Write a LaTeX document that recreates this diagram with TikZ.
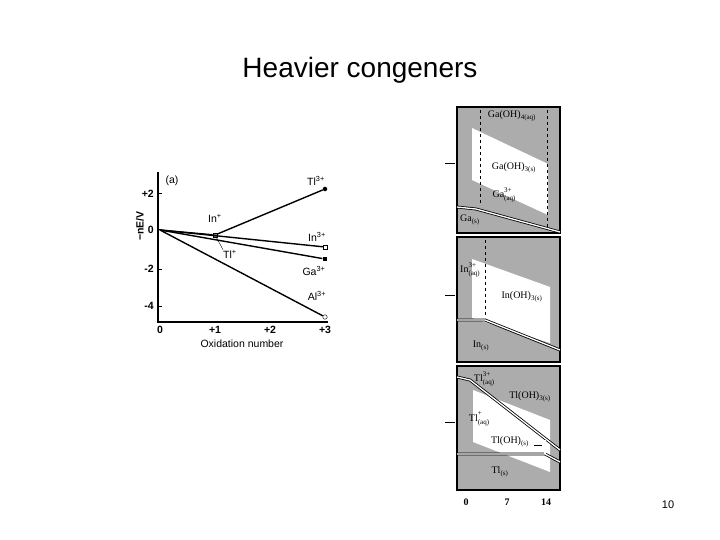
\documentclass[tikz,border=0pt]{standalone}
\usepackage{fontspec}
\setmainfont{Liberation Serif}
\setsansfont{Liberation Sans}
\newcommand\ionsp[3]{#1\rlap{\raisebox{1.15ex}{\scriptsize #2}}\raisebox{-0.7ex}{\scriptsize #3}}
\begin{document}
\begin{tikzpicture}[x=1pt,y=-1pt,
  lbl/.style={font=\sffamily\fontsize{10.5}{11}\selectfont,inner sep=0pt},
  pl/.style={font=\fontsize{10}{11}\selectfont,inner sep=0pt},
  ln/.style={line width=1.4pt},
  panel/.style={draw=black,line width=1.2pt,fill=gray!65},
  wh/.style={fill=white,draw=none},
  dl/.style={double=white,double distance=1.3pt,line width=0.8pt},
  dsh/.style={dashed,line width=1pt}]
\useasboundingbox (0,0) rectangle (720,540);
\node[font=\sffamily\fontsize{28}{32}\selectfont] (title) at (360,70) {Heavier congeners};
\node[font=\sffamily\fontsize{11}{12}\selectfont] (pg) at (668,505) {10};
% Frost diagram
\coordinate (ytop) at (158,172);
\coordinate (orig) at (158,322);
\coordinate (xend) at (328,322);
\draw[line width=1.3pt] (ytop) -- (orig) -- (xend);
\foreach \y/\t in {194/+2,230/0,269/-2,306/-4}{\draw[line width=1pt] (158,\y) -- (162,\y); \node[lbl,anchor=east] at (154,\y) {\textbf{\t}};}
\foreach \x/\t in {160/0,215/+1,270/+2,325/+3}{\node[lbl] at (\x,330) {\textbf{\t}};}
\node[lbl,rotate=90] (ylab) at (140,226) {\textbf{−nE/V}};
\node[lbl] (xlab) at (242,344) {Oxidation number};
\node[lbl] (a) at (172,181) {(a)};
\coordinate (z) at (160,230);
\node[circle,fill=black,inner sep=1.6pt] (tl3) at (325,189) {};
\node[draw,fill=white,inner sep=2pt] (in3) at (325,247) {};
\node[fill=black,inner sep=2.4pt] (ga3) at (325,259) {};
\node[circle,draw,fill=white,inner sep=1.6pt] (al3) at (325,317) {};
\node[draw,fill=gray,inner sep=2.2pt] (inp) at (215,235) {};
\draw[ln] (z) -- (inp) -- (tl3);
\draw[ln] (z) -- (in3);
\draw[ln] (z) -- (ga3);
\draw[ln] (z) -- (al3);
\node[lbl] (tl3l) at (316,181) {Tl\textsuperscript{3+}};
\node[lbl] (inpl) at (215,218) {In\textsuperscript{+}};
\node[lbl] (tlpl) at (230,254) {Tl\textsuperscript{+}};
\draw (tlpl.north west) -- (inp);
\node[lbl] (in3l) at (317,237) {In\textsuperscript{3+}};
\node[lbl] (ga3l) at (314,271) {Ga\textsuperscript{3+}};
\node[lbl] (al3l) at (317,296) {Al\textsuperscript{3+}};
% Panel 1
\draw[panel] (457,107) rectangle (560,233);
\fill[wh] (472,128) -- (548,164) -- (548,215) -- (472,180) -- cycle;
\draw[dsh] (480,110) -- (480,205);
\draw[dsh] (547,110) -- (547,230);
\draw[dl] (457,207) -- (476,209) -- (560,232);
\node[pl] (p1a) at (512,116) {Ga(OH)\textsubscript{4(aq)}};
\node[pl] (p1b) at (514,168) {Ga(OH)\textsubscript{3(s)}};
\node[pl] (p1c) at (504,195) {\ionsp{Ga}{3+}{(aq)}};
\node[pl] (p1d) at (470,220) {Ga\textsubscript{(s)}};
\draw (445,163) -- (455,163);
% Panel 2
\draw[panel] (457,237) rectangle (560,362);
\fill[wh] (472,259) -- (550,287) -- (550,343) -- (472,318) -- cycle;
\draw[dsh] (485,240) -- (485,318);
\draw[dl] (457,320) -- (485,320) -- (560,350);
\node[pl] (p2a) at (470,270) {\ionsp{In}{3+}{(aq)}};
\node[pl] (p2b) at (522,297) {In(OH)\textsubscript{3(s)}};
\node[pl] (p2c) at (481,346) {In\textsubscript{(s)}};
\draw (445,295) -- (455,295);
% Panel 3
\draw[panel] (457,366) rectangle (560,490);
\fill[wh] (473,390) -- (550,420) -- (550,472) -- (473,442) -- cycle;
\draw[dl] (457,377) -- (470,380) -- (560,450);
\draw[dl] (457,454) -- (545,454) -- (560,462);
\draw[dl] (545,440) -- (545,454);
\node[pl] (p3a) at (484,379) {\ionsp{Tl}{3+}{(aq)}};
\node[pl] (p3b) at (530,397) {Tl(OH)\textsubscript{3(s)}};
\node[pl] (p3c) at (479,419) {\ionsp{Tl}{+}{(aq)}};
\node[pl] (p3d) at (510,442) {Tl(OH)\textsubscript{(s)}};
\draw (534,445) -- (542,445);
\node[pl] (p3e) at (500,472) {Tl\textsubscript{(s)}};
\draw (445,422) -- (455,422);
\node[pl] (x0) at (466,502) {\textbf{0}};
\node[pl] (x7) at (507,502) {\textbf{7}};
\node[pl] (x14) at (546,502) {\textbf{14}};
\end{tikzpicture}
\end{document}
